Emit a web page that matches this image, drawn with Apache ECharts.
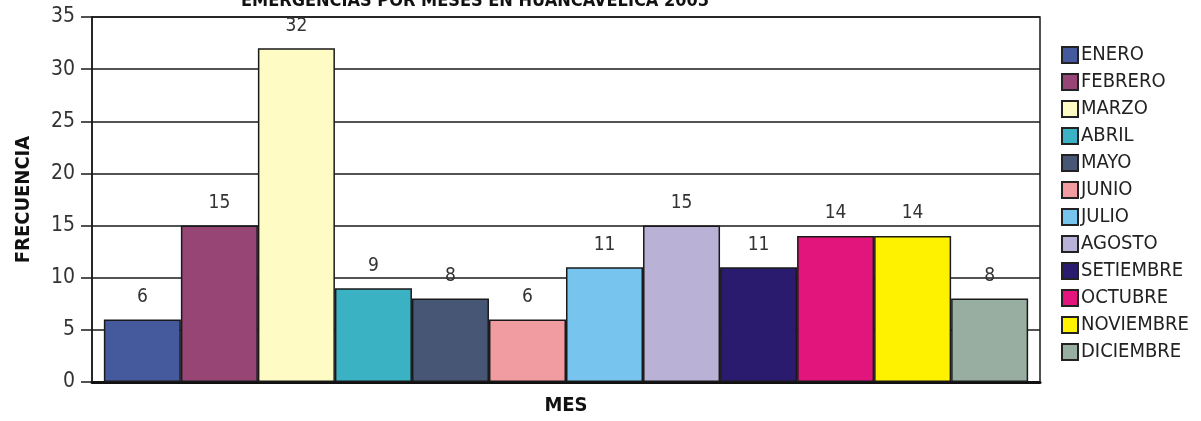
<!DOCTYPE html>
<html>
<head>
<meta charset="utf-8">
<script src="https://cdn.jsdelivr.net/npm/echarts@6/dist/echarts.min.js"></script>
<style>
  html, body { margin: 0; padding: 0; background: #fff; }
  #container { width: 1201px; height: 421px; }
</style>
</head>
<body>
<div id="container"></div>
<script>
  // datos
  var meses = ['ENERO', 'FEBRERO', 'MARZO', 'ABRIL', 'MAYO', 'JUNIO', 'JULIO',
    'AGOSTO', 'SETIEMBRE', 'OCTUBRE', 'NOVIEMBRE', 'DICIEMBRE'];
  var frecuencias = [6, 15, 32, 9, 8, 6, 11, 15, 11, 14, 14, 8];
  var colores = ['#445a9c', '#964574', '#fffbc4', '#3bb2c3', '#485676', '#f09ca0',
    '#77c4ee', '#b9b2d6', '#2b1b6e', '#e2157d', '#fff200', '#97aea0'];
  var yTicks = [0, 5, 10, 15, 20, 25, 30, 35];

  var fuente = '"Liberation Sans Narrow", "DejaVu Sans Condensed", sans-serif';

  var dom = document.getElementById('container');
  var myChart = echarts.init(dom);

  var series = [];
  meses.forEach(function (mes, i) {
    series.push({
      name: mes,
      type: 'bar',
      data: [frecuencias[i]],
      barGap: '0%',
      barCategoryGap: '2.5%',
      itemStyle: {
        color: colores[i],
        borderColor: '#1a1a1a',
        borderWidth: 1.5
      },
      label: {
        show: true,
        position: 'top',
        distance: 13,
        color: '#333',
        fontFamily: fuente,
        fontSize: 19
      }
    });
  });

  var option = {
    animation: false,
    title: {
      text: 'EMERGENCIAS POR MESES EN HUANCAVELICA 2005',
      left: 470,
      top: -13,
      textAlign: 'center',
      textStyle: {
        fontFamily: fuente,
        fontWeight: 'bold',
        fontSize: 18,
        color: '#111'
      }
    },
    legend: {
      orient: 'vertical',
      left: 1056,
      top: 40,
      itemWidth: 16,
      itemHeight: 16,
      itemGap: 7,
      icon: 'rect',
      itemStyle: {
        borderColor: '#222',
        borderWidth: 2
      },
      textStyle: {
        fontFamily: fuente,
        fontSize: 20,
        lineHeight: 16,
        color: '#222',
        padding: [0, 0, 0, -2]
      },
      data: meses
    },
    grid: {
      left: 92,
      right: 161,
      top: 17,
      bottom: 28,
      show: true,
      borderColor: '#1a1a1a',
      borderWidth: 1.5
    },
    xAxis: {
      type: 'category',
      data: [''],
      name: 'MES',
      nameLocation: 'middle',
      nameGap: 14,
      nameTextStyle: {
        fontFamily: fuente,
        fontWeight: 'bold',
        fontSize: 20,
        color: '#111'
      },
      axisLine: { lineStyle: { color: '#111', width: 3 } },
      axisTick: { show: false },
      axisLabel: { show: false }
    },
    yAxis: {
      type: 'value',
      min: yTicks[0],
      max: yTicks[yTicks.length - 1],
      interval: 5,
      name: 'FRECUENCIA',
      nameLocation: 'middle',
      nameRotate: 90,
      nameGap: 58,
      nameTextStyle: {
        fontFamily: fuente,
        fontWeight: 'bold',
        fontSize: 20,
        color: '#111'
      },
      axisLine: { show: true, lineStyle: { color: '#1a1a1a', width: 1.5 } },
      axisTick: { show: true, length: 11, lineStyle: { color: '#1a1a1a', width: 1.5 } },
      axisLabel: {
        margin: 17,
        fontFamily: fuente,
        fontSize: 21,
        color: '#333'
      },
      splitLine: { lineStyle: { color: '#1a1a1a', width: 1.5 } }
    },
    series: series
  };

  myChart.setOption(option, true);
</script>
</body>
</html>
